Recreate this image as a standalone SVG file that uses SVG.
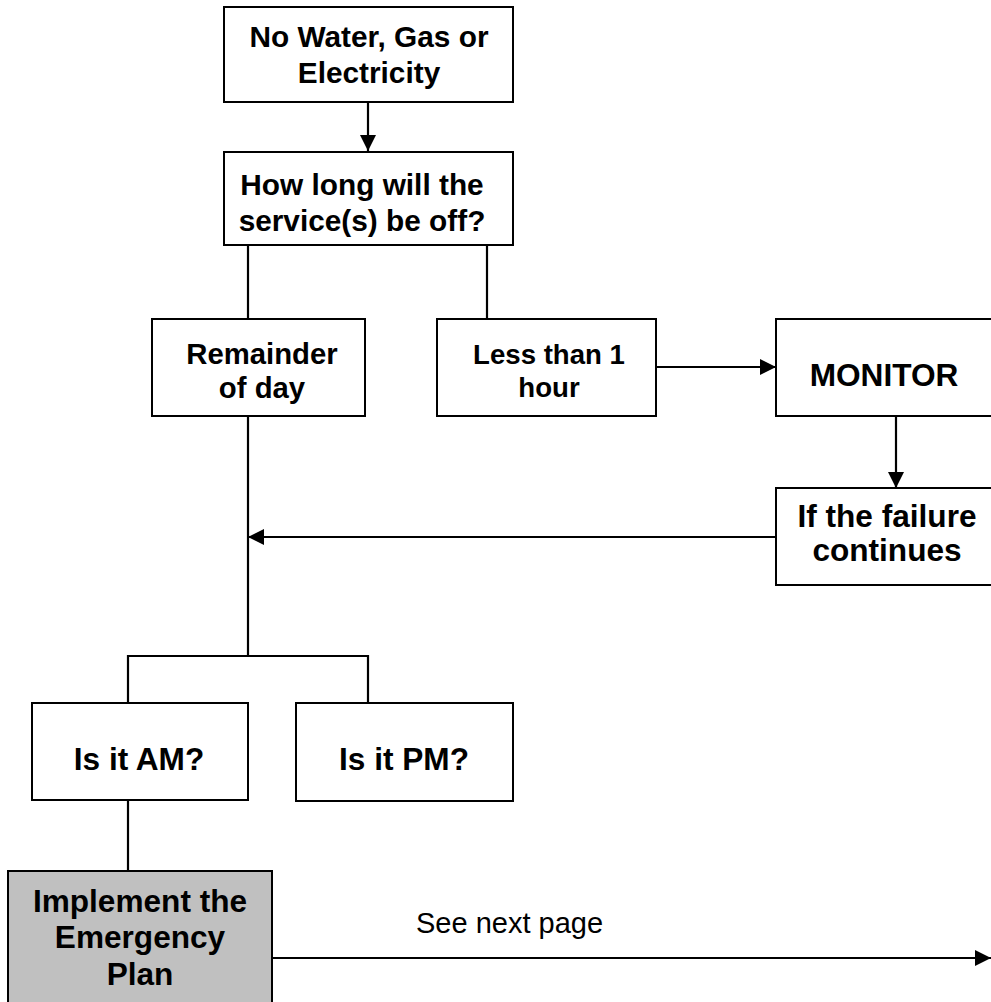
<svg xmlns="http://www.w3.org/2000/svg" width="991" height="1002" viewBox="0 0 991 1002">
  <defs>
    <marker id="arrow" markerUnits="userSpaceOnUse" markerWidth="17" markerHeight="16" refX="16" refY="8" orient="auto">
      <path d="M0,0 L16,8 L0,16 Z" fill="#000"/>
    </marker>
    <style>
      .box { fill: #fff; stroke: #000; stroke-width: 2; }
      .shaded { fill: #c0c0c0; stroke: #000; stroke-width: 2; }
      .lbl { font-family: "Liberation Sans", Arial, sans-serif; font-weight: bold; text-anchor: middle; fill: #000; }
      .s1 { font-size: 29.8px; }
      .s2 { font-size: 31.6px; }
      .note { font-family: "Liberation Sans", Arial, sans-serif; font-size: 29px; fill: #000; }
      .wire { fill: none; stroke: #000; stroke-width: 2.2; }
      .arr { marker-end: url(#arrow); }
    </style>
  </defs>
  <rect width="991" height="1002" fill="#fff"/>

  <!-- connectors -->
  <g id="connectors">
    <line class="wire arr" x1="368" y1="102" x2="368" y2="151"/>
    <line class="wire" x1="248" y1="245" x2="248" y2="319"/>
    <line class="wire" x1="487" y1="245" x2="487" y2="319"/>
    <line class="wire arr" x1="656" y1="367" x2="776" y2="367"/>
    <line class="wire arr" x1="896" y1="416" x2="896" y2="488"/>
    <line class="wire arr" x1="776" y1="537" x2="248" y2="537"/>
    <line class="wire" x1="248" y1="416" x2="248" y2="656"/>
    <polyline class="wire" points="128,703 128,656 368,656 368,703"/>
    <line class="wire" x1="128" y1="800" x2="128" y2="871"/>
    <line class="wire arr" x1="272" y1="958" x2="991" y2="958"/>
    <text class="note" x="416" y="933">See next page</text>
  </g>

  <g id="no-services">
    <rect class="box" x="224" y="7" width="289" height="95"/>
    <text class="lbl s1" x="369" y="47">No Water, Gas or</text>
    <text class="lbl s1" x="369" y="83">Electricity</text>
  </g>

  <g id="how-long">
    <rect class="box" x="224" y="152" width="289" height="93"/>
    <text class="lbl s1" x="362" y="195">How long will the</text>
    <text class="lbl s1" x="362" y="231">service(s) be off?</text>
  </g>

  <g id="remainder">
    <rect class="box" x="152" y="319" width="213" height="97"/>
    <text class="lbl" style="font-size:29.3px" x="262" y="364">Remainder</text>
    <text class="lbl" style="font-size:29.3px" x="262" y="398">of day</text>
  </g>

  <g id="less-than-hour">
    <rect class="box" x="437" y="319" width="219" height="97"/>
    <text class="lbl" style="font-size:27.6px" x="549" y="364">Less than 1</text>
    <text class="lbl" style="font-size:27.6px" x="549" y="397">hour</text>
  </g>

  <g id="monitor">
    <rect class="box" x="776" y="319" width="230" height="97"/>
    <text class="lbl s2" x="884" y="386">MONITOR</text>
  </g>

  <g id="failure-continues">
    <rect class="box" x="776" y="488" width="230" height="97"/>
    <text class="lbl s2" x="887" y="527">If the failure</text>
    <text class="lbl s2" x="887" y="561">continues</text>
  </g>

  <g id="is-am">
    <rect class="box" x="32" y="703" width="216" height="97"/>
    <text class="lbl s2" x="139" y="770">Is it AM?</text>
  </g>

  <g id="is-pm">
    <rect class="box" x="296" y="703" width="217" height="98"/>
    <text class="lbl s2" x="404" y="770">Is it PM?</text>
  </g>

  <g id="emergency-plan">
    <rect class="shaded" x="8" y="871" width="264" height="140"/>
    <text class="lbl s2" x="140" y="912">Implement the</text>
    <text class="lbl s2" x="140" y="948">Emergency</text>
    <text class="lbl s2" x="140" y="985">Plan</text>
  </g>
</svg>
